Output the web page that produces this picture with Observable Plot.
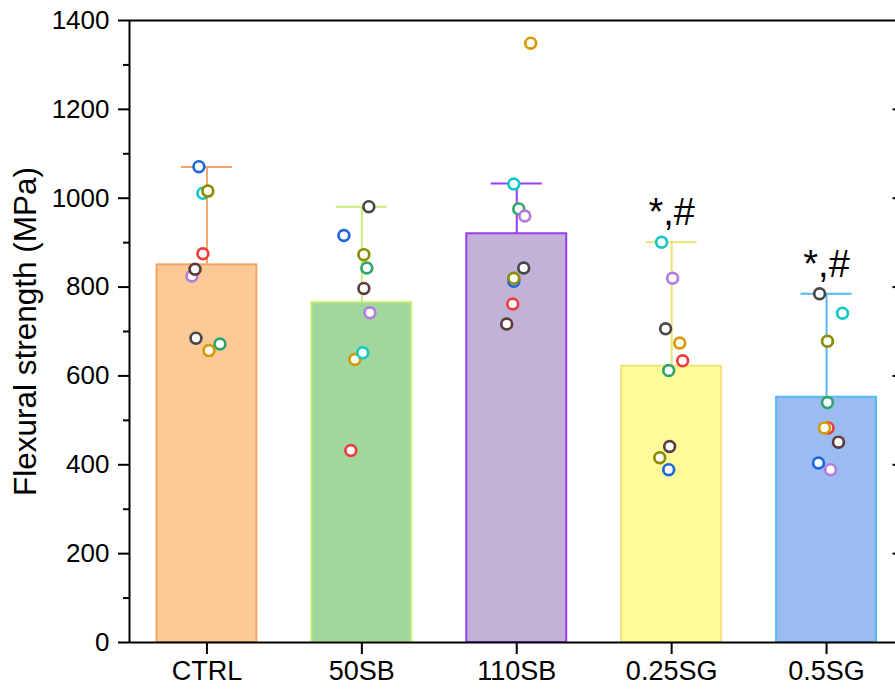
<!DOCTYPE html>
<html>
<head>
<meta charset="utf-8">
<script src="https://cdn.jsdelivr.net/npm/d3@7"></script>
<script src="https://cdn.jsdelivr.net/npm/@observablehq/plot@0.6"></script>
<style>
  html, body { margin: 0; padding: 0; background: white; }
</style>
</head>
<body>
<div id="chart"></div>
<script>
// ---- data ----
const categories = ["CTRL", "50SB", "110SB", "0.25SG", "0.5SG"];
const means      = [850, 765, 920, 622, 552];
const sdTops     = [1070, 981, 1033, 901, 785];
const notes      = ["", "", "", "*,#", "*,#"];
const barFills   = ["#FBC896", "#9FD79C", "#C3B2D8", "#FDFB9A", "#9ABCF0"];
const barStrokes = ["#F3A466", "#C6F07A", "#9A3CF0", "#EEE27A", "#56B8F5"];

// specimen order (draw order) and ring colours
const specimenColors = ["#1A66E0", "#2EA66A", "#EE3B3B", "#D49A00", "#14C8C8",
                        "#8C8C00", "#B27BE0", "#5E3C3C", "#474747"];
const ctrlValues  = [1071, 672, 875, 657, 1011, 1016, 825, 840, 685];
const sb50Values  = [916, 843, 432, 637, 652, 873, 742, 797, 981];
const sb110Values = [813, 976, 762, 1349, 1032, 820, 960, 717, 843];
const sg025Values = [389, 612, 634, 674, 901, 416, 820, 441, 706];
const sg05Values  = [404, 540, 483, 483, 741, 678, 389, 451, 785];
// horizontal scatter of each point, in hundredths of a category step
const ctrlJitter  = [-5.2, 8.4, -2.6, 1.3, -2.6, 0.6, -9.7, -7.7, -7.1];
const sb50Jitter  = [-11.6, 3.2, -7.1, -4.5, 0.6, 1.3, 5.2, 1.3, 4.5];
const sb110Jitter = [-1.9, 1.3, -2.6, 9.0, -1.9, -1.9, 5.2, -6.5, 4.5];
const sg025Jitter = [-1.9, -1.9, 7.1, 5.2, -6.5, -7.7, 0.6, -1.3, -3.9];
const sg05Jitter  = [-5.2, 0.6, 1.0, -1.3, 10.3, 0.6, 2.6, 7.7, -4.5];

const yMajor = [0, 200, 400, 600, 800, 1000, 1200, 1400];
const yMinor = [100, 300, 500, 700, 900, 1100, 1300];
const yLabel = "Flexural strength (MPa)";

// ---- tables ----
const bars = categories.map((c, i) => ({
  i, c, mean: means[i], top: sdTops[i], note: notes[i],
  fill: barFills[i], stroke: barStrokes[i]
}));
const groupValues = [ctrlValues, sb50Values, sb110Values, sg025Values, sg05Values];
const groupJitter = [ctrlJitter, sb50Jitter, sb110Jitter, sg025Jitter, sg05Jitter];
const points = [];
groupValues.forEach((vals, gi) => {
  vals.forEach((v, k) => points.push({gi, v, j: groupJitter[gi][k], color: specimenColors[k]}));
});

const halfBar = 0.3226;
const halfCap = 0.165;
const xmin = -0.5, xmax = 4.5;

const chart = Plot.plot({
  width: 895,
  height: 692,
  marginLeft: 129,
  marginRight: 0,
  marginTop: 20,
  marginBottom: 50,
  x: {type: "linear", domain: [xmin, xmax], range: [129, 903.5]},
  y: {domain: [0, 1400], range: [642, 20]},
  color: {type: "identity"},
  style: {fontFamily: "'Liberation Sans', Arial, sans-serif", background: "white", color: "black"},
  marks: [
    Plot.rectY(bars, {x1: d => d.i - halfBar, x2: d => d.i + halfBar, y1: 0, y2: "mean",
                      fill: "fill", stroke: "stroke", strokeWidth: 2}),
    Plot.ruleX(bars, {x: "i", y1: "mean", y2: "top", stroke: "stroke", strokeWidth: 2}),
    Plot.ruleY(bars, {y: "top", x1: d => d.i - halfCap, x2: d => d.i + halfCap, stroke: "stroke", strokeWidth: 2}),
    Plot.dot(points, {x: d => d.gi + d.j / 100, y: "v", r: 5.4, fill: "white", stroke: "color", strokeWidth: 2.7}),
    Plot.text(bars, {x: "i", y: "top", text: "note", dy: -17, lineAnchor: "bottom", fontSize: 38, fill: "black"}),
    // frame
    Plot.ruleX([xmin], {y1: 0, y2: 1400, stroke: "black", strokeWidth: 2}),
    Plot.ruleX([xmax], {y1: 0, y2: 1400, stroke: "black", strokeWidth: 2}),
    Plot.ruleY([0], {x1: xmin, x2: xmax, stroke: "black", strokeWidth: 2}),
    Plot.ruleY([1400], {x1: xmin, x2: xmax, stroke: "black", strokeWidth: 2}),
    // right inward ticks
    Plot.ruleY(yMajor.slice(1, -1), {x1: xmax - 11 / 155, x2: xmax, stroke: "black", strokeWidth: 2}),
    // left axis ticks and labels
    Plot.axisY({ticks: yMajor, tickSize: 11, text: null, label: null, strokeWidth: 2}),
    Plot.axisY({ticks: yMinor, tickSize: 6, text: null, label: null, strokeWidth: 2}),
    Plot.text(yMajor, {x: xmin, y: d => d, text: d => String(d), textAnchor: "end", dx: -20,
                       fontSize: 26, fill: "black"}),
    // bottom axis ticks and labels
    Plot.axisX({ticks: [0, 1, 2, 3, 4], tickSize: 12, text: null, label: null, strokeWidth: 2}),
    Plot.text(bars, {x: "i", y: 0, text: "c", lineAnchor: "top", dy: 18, fontSize: 27, fill: "black"}),
    Plot.text([yLabel], {frameAnchor: "left", textAnchor: "middle", dx: -104, rotate: -90,
                         fontSize: 31.5, fill: "black"})
  ]
});
document.getElementById("chart").appendChild(chart);
</script>
</body>
</html>
